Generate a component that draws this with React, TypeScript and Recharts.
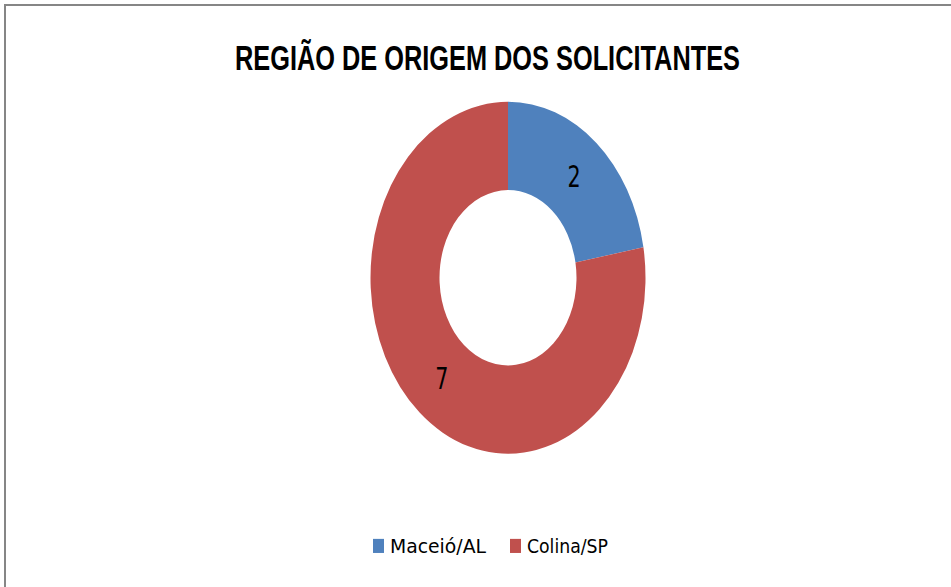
import React from 'react';
import { PieChart, Pie, Cell, Legend } from 'recharts';

const regions = ['Maceió/AL', 'Colina/SP'];
const requesters = [2, 7];
const colors = ['#4F81BD', '#C0504D'];

const data = regions.map((name, i) => ({ name, value: requesters[i] }));

// the original picture is stretched vertically, so the chart is drawn flat and scaled
const STRETCH = 1.28;
const RAD = Math.PI / 180;
const FONT = '"Liberation Sans Narrow", "DejaVu Sans Condensed", "Liberation Sans", sans-serif';

function SliceLabel(props: any) {
  const { cx, cy, midAngle, innerRadius, outerRadius, value } = props;
  const r = (innerRadius + outerRadius) / 2;
  const x = cx + r * Math.cos(-midAngle * RAD);
  const y = cy + r * Math.sin(-midAngle * RAD);
  return (
    <text
      x={x}
      y={y}
      fill="#000"
      fontSize={23}
      fontFamily={FONT}
      textAnchor="middle"
      dominantBaseline="central"
    >
      {value}
    </text>
  );
}

function LegendContent(props: any) {
  const payload = [...(props.payload || [])].sort(
    (a: any, b: any) => regions.indexOf(a.value) - regions.indexOf(b.value)
  );
  const widths = [96, 81];
  return (
    <svg width={951} height={30}>
      {payload.map((entry: any, i: number) => {
        const x = 373 + i * 137;
        return (
          <g key={entry.value}>
            <rect x={x} y={9} width={11} height={11} fill={entry.color} />
            <text
              x={x + 17}
              y={20}
              fontSize={15}
              fontFamily={FONT}
              fill="#000"
              textLength={widths[i]}
              lengthAdjust="spacingAndGlyphs"
            >
              {entry.value}
            </text>
          </g>
        );
      })}
    </svg>
  );
}

export default function App() {
  return (
    <div
      style={{
        position: 'absolute',
        left: 0,
        top: 0,
        width: 951,
        height: 587,
        overflow: 'hidden',
        background: '#fff',
      }}
    >
      <div
        style={{
          position: 'absolute',
          left: 4,
          top: 4,
          width: 1000,
          height: 1000,
          border: '2px solid #868686',
        }}
      />
      <div
        style={{
          position: 'absolute',
          left: 0,
          top: 0,
          width: 951,
          height: 459,
          transform: `scaleY(${STRETCH})`,
          transformOrigin: '0 0',
        }}
      >
        <svg
          width={951}
          height={80}
          style={{ position: 'absolute', left: 0, top: 0 }}
        >
          <text
            x={235}
            y={55}
            fontSize={28}
            fontWeight="bold"
            fontFamily='"Liberation Sans", sans-serif'
            fill="#000"
            textLength={505}
            lengthAdjust="spacingAndGlyphs"
          >
            REGIÃO DE ORIGEM DOS SOLICITANTES
          </text>
        </svg>
        <PieChart width={951} height={459} margin={{ top: 0, right: 0, bottom: 0, left: 0 }}>
          <Pie
            data={data}
            dataKey="value"
            nameKey="name"
            cx={508}
            cy={217}
            outerRadius={137.5}
            innerRadius={68.5}
            startAngle={90}
            endAngle={-270}
            stroke="none"
            label={SliceLabel}
            labelLine={false}
            isAnimationActive={false}
          >
            {data.map((d, i) => (
              <Cell key={d.name} fill={colors[i]} />
            ))}
          </Pie>
          <Legend
            content={LegendContent}
            wrapperStyle={{ position: 'absolute', left: 0, top: 412, width: 951 }}
          />
        </PieChart>
      </div>
    </div>
  );
}
